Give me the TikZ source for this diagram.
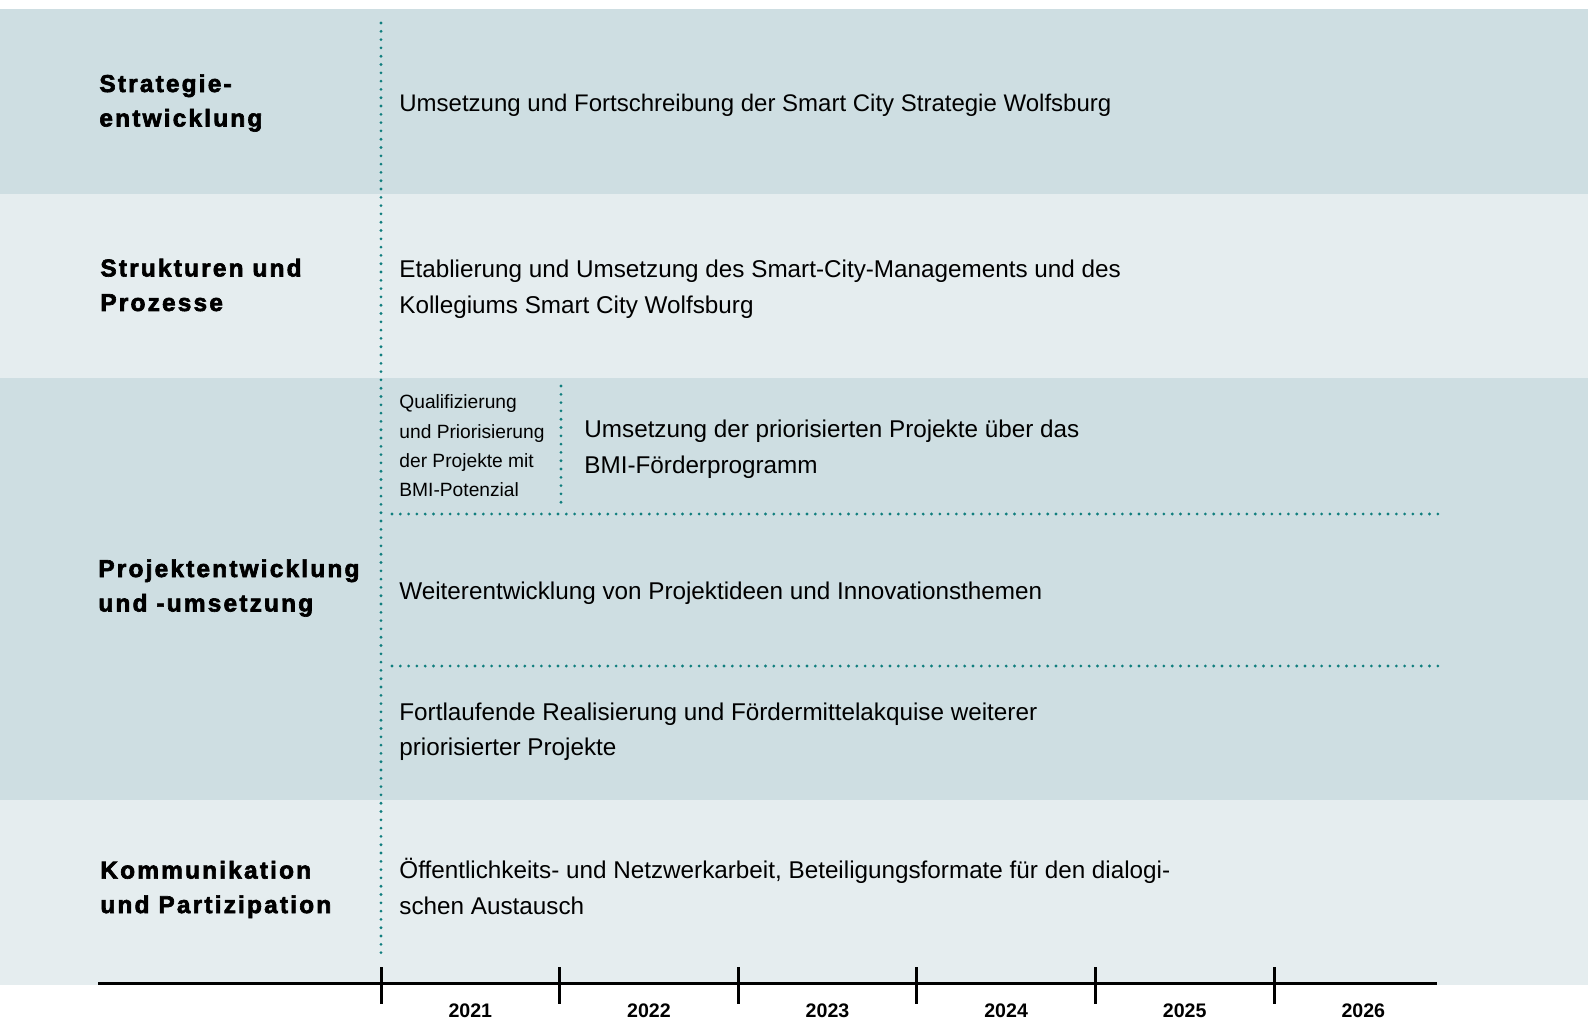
\documentclass[tikz,border=0pt]{standalone}
\usepackage{fontspec}
\setmainfont{Liberation Sans}
\newfontfamily\labelfont[LetterSpace=9,FakeBold=2.6]{Liberation Sans Bold}
\definecolor{banddark}{RGB}{206,222,226}
\definecolor{bandlight}{RGB}{229,237,239}
\definecolor{dotteal}{RGB}{16,126,126}
\tikzset{
  rowlabel/.style={anchor=west,inner sep=0pt,align=left,font=\labelfont\fontsize{12.2}{17.25}\selectfont},
  bodytext/.style={anchor=west,inner sep=0pt,align=left,font=\fontsize{12.13}{17.75}\selectfont},
  smalltext/.style={anchor=west,inner sep=0pt,align=left,font=\fontsize{9.6}{14.7}\selectfont},
  yearlabel/.style={anchor=base,inner sep=0pt,font=\bfseries\fontsize{9.8}{12}\selectfont},
  dotline/.style={dotteal,line width=1.55pt,line cap=round,dash pattern=on 0pt off 4.15pt}
}
\begin{document}
\begin{tikzpicture}[x=0.5pt,y=-0.5pt]
\useasboundingbox (0,0) rectangle (1588,1019);
%bands
\fill[banddark](0,9)rectangle(1588,193.5);
\fill[bandlight](0,193.5)rectangle(1588,378);
\fill[banddark](0,378)rectangle(1588,800);
\fill[bandlight](0,800)rectangle(1588,985);
%dotted grid
\coordinate (vtop) at (381,23);
\coordinate (vbot) at (381,957);
\coordinate (qtop) at (561,386);
\coordinate (qbot) at (561,503);
\coordinate (h1l) at (392,514);
\coordinate (h1r) at (1440,514);
\coordinate (h2l) at (392,666);
\coordinate (h2r) at (1440,666);
\draw[dotline](vtop)--(vbot);
\draw[dotline](qtop)--(qbot);
\draw[dotline](h1l)--(h1r);
\draw[dotline](h2l)--(h2r);
%row labels
\node[rowlabel] (strat) at (99,103) {Strategie-\\entwicklung};
\node[rowlabel] (struk) at (100,285) {Strukturen und\\Prozesse};
\node[rowlabel] (proj) at (98,588) {Projektentwicklung\\und -umsetzung};
\node[rowlabel] (komm) at (100,889.5) {Kommunikation\\und Partizipation};
%texts
\node[bodytext,font=\fontsize{12}{17.75}\selectfont] (umsetzung) at (399,105) {Umsetzung und Fortschreibung der Smart City Strategie Wolfsburg};
\node[bodytext] (etab) at (399,289) {Etablierung und Umsetzung des Smart-City-Managements und des\\Kollegiums Smart City Wolfsburg};
\node[smalltext] (quali) at (399,446) {Qualifizierung\\und Priorisierung\\der Projekte mit\\BMI-Potenzial};
\node[bodytext] (bmi) at (584,449) {Umsetzung der priorisierten Projekte über das\\BMI-Förderprogramm};
\node[bodytext] (weiter) at (399,593.5) {Weiterentwicklung von Projektideen und Innovationsthemen};
\node[bodytext] (fort) at (399,731.5) {Fortlaufende Realisierung und Fördermittelakquise weiterer\\priorisierter Projekte};
\node[bodytext] (oeff) at (399,886.5) {Öffentlichkeits- und Netzwerkarbeit, Beteiligungsformate für den dialogi-\\schen Austausch};
%time axis
\coordinate (axl) at (98,983);
\coordinate (axr) at (1437,983);
\draw[line width=1.5pt](axl)--(axr);
\foreach \i/\yr in {0/2021,1/2022,2/2023,3/2024,4/2025,5/2026}
{
\draw[line width=1.5pt](381+\i*178.6,967)--(381+\i*178.6,1004);
\node[yearlabel] (y\yr) at (470.3+\i*178.6,1017) {\yr};
}
\end{tikzpicture}
\end{document}
